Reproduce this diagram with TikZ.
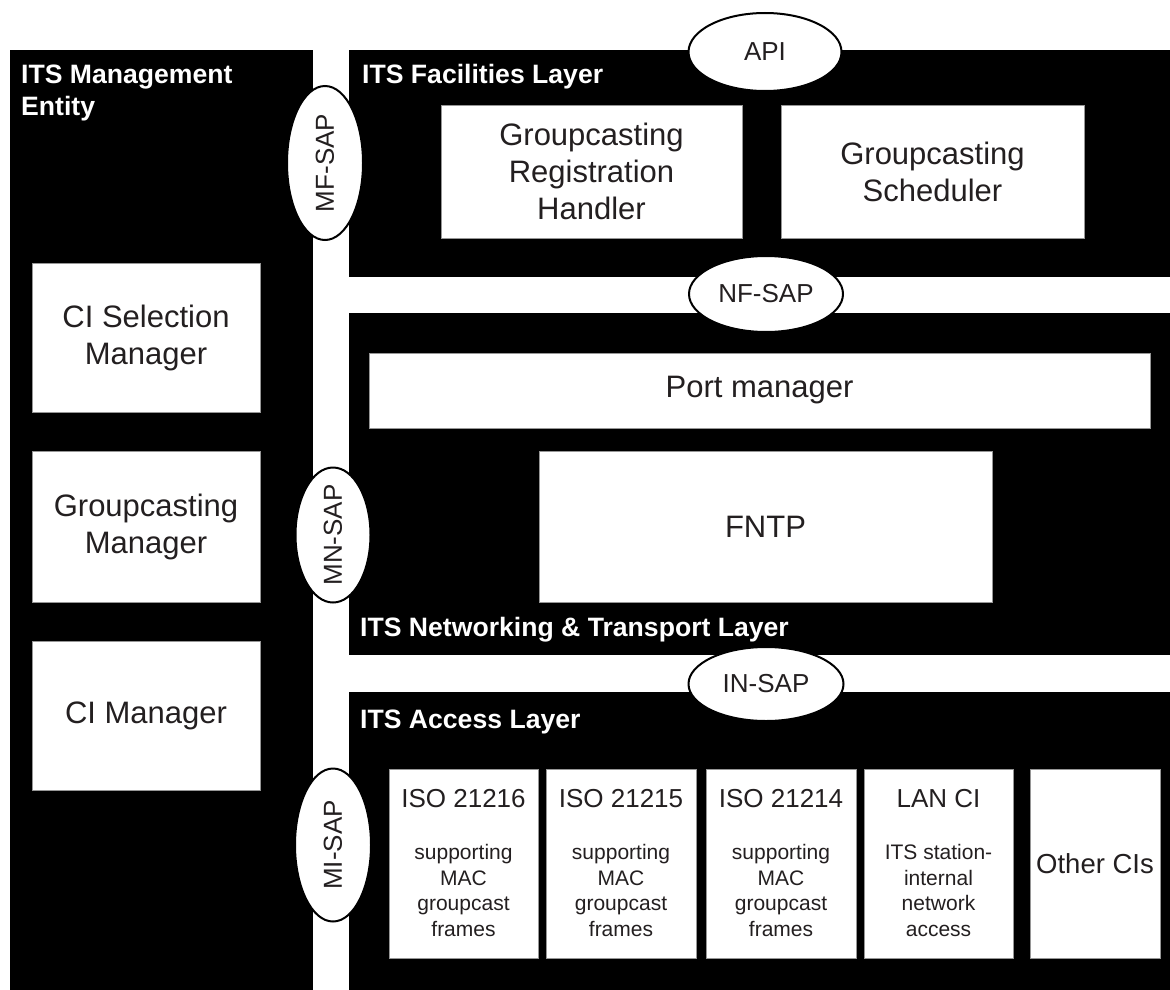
\documentclass[tikz,border=0pt]{standalone}
\usepackage{fontspec}
\setmainfont{Liberation Sans}
\usetikzlibrary{shapes.geometric}
\definecolor{ink}{RGB}{35,31,32}
\definecolor{rim}{RGB}{150,150,150}
\tikzset{
  layer/.style={fill=black, draw=none, inner sep=0, rectangle},
  unit/.style={rectangle, draw=rim, fill=white, line width=0.8pt, text=ink, align=center,
    inner sep=0, font=\fontsize{31}{37}\selectfont},
  ciunit/.style={rectangle, draw=rim, fill=white, line width=0.8pt, inner sep=0},
  cihead/.style={text=ink, inner sep=0, anchor=base, font=\fontsize{26}{30}\selectfont},
  cibody/.style={text=ink, inner sep=0, anchor=north, align=center, font=\fontsize{21}{25.7}\selectfont},
  sap/.style={ellipse, draw=black, line width=2pt, fill=white, inner sep=0, text=ink,
    font=\fontsize{26}{30}\selectfont},
  heading/.style={text=white, inner sep=0, align=left, font=\bfseries\fontsize{26.6}{32}\selectfont},
}
\begin{document}
\begin{tikzpicture}[x=1pt, y=-1pt]
\useasboundingbox (0,0) rectangle (1170,990);

% layer backgrounds
\node[layer, minimum width=303pt, minimum height=940pt] (mgmt) at (161.5,520) {};
\node[layer, minimum width=821pt, minimum height=227pt] (fac) at (759.5,163.5) {};
\node[layer, minimum width=821pt, minimum height=342pt] (net) at (759.5,484) {};
\node[layer, minimum width=821pt, minimum height=298pt] (acc) at (759.5,841) {};

% layer headings
\node[heading, anchor=north west] (mgmtT) at (21,65) {ITS Management\\Entity};
\node[heading, anchor=base west] (facT) at (362,83) {ITS Facilities Layer};
\node[heading, anchor=base west] (netT) at (360,636) {ITS Networking \& Transport Layer};
\node[heading, anchor=base west] (accT) at (360,728) {ITS Access Layer};

% management entity
\node[unit, minimum width=228pt, minimum height=149pt] (cisel) at (146,337.5) {CI Selection\\Manager};
\node[unit, minimum width=228pt, minimum height=151pt] (gcm) at (146,526.5) {Groupcasting\\Manager};
\node[unit, minimum width=228pt, minimum height=149pt] (cim) at (146,715.5) {CI Manager};

% facilities
\node[unit, minimum width=301pt, minimum height=133pt] (grh) at (591.5,171.5) {Groupcasting\\Registration\\Handler};
\node[unit, minimum width=303pt, minimum height=133pt] (gsch) at (932.5,171.5) {Groupcasting\\Scheduler};

% networking & transport
\node[unit, minimum width=781pt, minimum height=75pt] (port) at (759.5,390.5) {Port manager};
\node[unit, minimum width=453pt, minimum height=151pt] (fntp) at (765.5,526.5) {FNTP};

% access layer communication interfaces
\node[ciunit, minimum width=149pt, minimum height=189pt] (iso16) at (463.5,863.5) {};
\node[ciunit, minimum width=150pt, minimum height=189pt] (iso15) at (621,863.5) {};
\node[ciunit, minimum width=150pt, minimum height=189pt] (iso14) at (781,863.5) {};
\node[ciunit, minimum width=149pt, minimum height=189pt] (lan) at (938.5,863.5) {};
\node[unit, minimum width=130pt, minimum height=189pt, font=\fontsize{27.5}{32}\selectfont] (other) at (1095,863.5) {Other CIs};

\node[cihead] (iso16h) at (463.5,807) {ISO 21216};
\node[cihead] (iso15h) at (621,807) {ISO 21215};
\node[cihead] (iso14h) at (781,807) {ISO 21214};
\node[cihead] (lanh) at (938.5,807) {LAN CI};

\node[cibody] (iso16b) at (463.5,844) {supporting\\MAC\\groupcast\\frames};
\node[cibody] (iso15b) at (621,844) {supporting\\MAC\\groupcast\\frames};
\node[cibody] (iso14b) at (781,844) {supporting\\MAC\\groupcast\\frames};
\node[cibody] (lanb) at (938.5,844) {ITS station-\\internal\\network\\access};

% service access points
\node[sap, minimum width=153pt, minimum height=78pt] (api) at (765,52) {API};
\node[sap, minimum width=154pt, minimum height=76pt] (nfsap) at (766,294) {NF-SAP};
\node[sap, minimum width=155pt, minimum height=74pt] (insap) at (766,684) {IN-SAP};
\node[sap, minimum width=76pt, minimum height=154pt] (mfsap) at (325,163) {};
\node[sap, minimum width=75pt, minimum height=135pt] (mnsap) at (333,535) {};
\node[sap, minimum width=76pt, minimum height=153pt] (misap) at (333,845) {};
\node[text=ink, inner sep=0, rotate=90, font=\fontsize{26}{30}\selectfont] (mfT) at (mfsap.center) {MF-SAP};
\node[text=ink, inner sep=0, rotate=90, font=\fontsize{26}{30}\selectfont] (mnT) at (mnsap.center) {MN-SAP};
\node[text=ink, inner sep=0, rotate=90, font=\fontsize{26}{30}\selectfont] (miT) at (misap.center) {MI-SAP};
\end{tikzpicture}
\end{document}
